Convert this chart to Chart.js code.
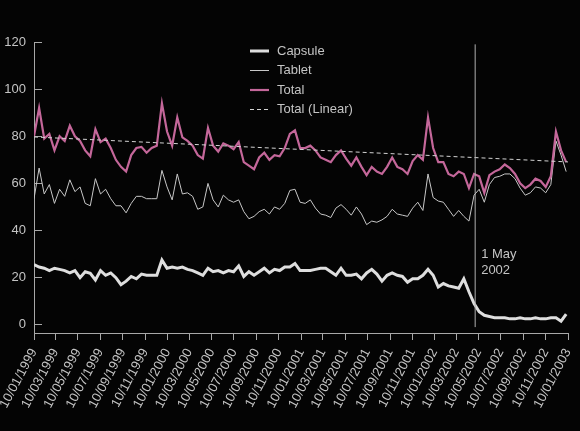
<!doctype html>
<html lang="en">
    <head>
        <meta charset="UTF-8" />
        <title>Capsule / Tablet / Total</title>
        <script src="https://cdn.jsdelivr.net/npm/chart.js"></script>
        <style>
            html, body { margin: 0; padding: 0; background: #040404; }
            #wrap { width: 580px; height: 431px; }
        </style>
    </head>
    <body>
        <div id="wrap"><canvas id="chart1" width="580" height="431"></canvas></div>
        <script>
            // tick labels on the date axis (dd/mm/yyyy)
            const tickLabels = [
                "10/01/1999", "10/03/1999", "10/05/1999", "10/07/1999", "10/09/1999", "10/11/1999",
                "10/01/2000", "10/03/2000", "10/05/2000", "10/07/2000", "10/09/2000", "10/11/2000",
                "10/01/2001", "10/03/2001", "10/05/2001", "10/07/2001", "10/09/2001", "10/11/2001",
                "10/01/2002", "10/03/2002", "10/05/2002", "10/07/2002", "10/09/2002", "10/11/2002",
                "10/01/2003",
            ];
            const yTicks = [0, 20, 40, 60, 80, 100, 120];
            const stepDays = 14; // one reading every two weeks

            const capsule = [
                25.5, 24.5, 24, 23, 24, 23.5, 23, 22, 23, 20,
                22.5, 21.8, 19, 23, 21, 22, 20, 17, 18.5, 20.5,
                19.5, 21.5, 21, 21, 21, 27.5, 24, 24.5, 24, 24.5,
                23.5, 23, 22, 21, 24, 22.5, 23, 22, 23, 22.5,
                25, 20.5, 22.5, 21, 22.5, 24, 22, 23.5, 23, 24.5,
                24.5, 26, 23, 23, 23, 23.5, 24, 24, 22.5, 21,
                24, 21, 21, 21.5, 19.5, 22, 23.5, 21.5, 18.5, 21,
                22, 21, 20.5, 18, 19.5, 19.5, 21, 23.5, 21, 16,
                17.5, 16.5, 16, 15.5, 19.5, 14, 9, 5.5, 4, 3.5,
                3, 3, 3, 2.5, 2.5, 3, 2.5, 2.5, 3, 2.5,
                2.5, 3, 3, 1.5, 4.5,
            ];
            const tablet = [
                53.5, 66.5, 55.5, 59.5, 51.5, 57.5, 54.5, 61.5, 56.5, 58.5,
                51.5, 50.5, 62, 55.5, 57.5, 53.5, 50.5, 50.5, 47.5, 51.5,
                54.5, 54.5, 53.5, 53.5, 53.5, 65.5, 58.5, 53, 64, 55.5,
                56, 54.5, 49, 50, 60, 53, 50, 55, 53, 52,
                53, 48, 45, 46, 48, 49, 47, 50, 49, 51.5,
                57, 57.5, 52, 51.5, 53, 49.5, 47, 46.5, 45.5, 49.5,
                51, 49, 46.5, 50, 47, 42.5, 44, 43.5, 44.5, 46,
                49, 47, 46.5, 46, 49.5, 52, 48.5, 64, 54, 52.5,
                52, 49, 46, 48.5, 46, 44, 55, 57.5, 52, 59.5,
                62.5, 63, 64, 64, 62, 58, 55, 56, 58.5, 58,
                56, 59.5, 78, 72, 65,
            ];
            const total = [
                80, 92, 79, 81, 74, 80, 78, 84.5, 80, 78,
                74, 71.5, 83, 77.5, 79, 75, 70, 67, 65, 72,
                75, 75.5, 73, 75, 76, 94, 82, 76, 88, 79.5,
                78, 76, 72, 70.5, 83.5, 76, 73.5, 77, 76, 74.5,
                77.5, 69, 67.5, 66, 71, 73, 70, 72, 71.5, 75,
                81, 82.5, 75, 75, 76, 74, 71, 70, 69, 72,
                74, 70.5, 67.5, 71, 67, 63.5, 67, 65, 64, 67,
                71, 67, 66, 64, 69.5, 72, 70, 88, 75, 69,
                69, 64, 63, 65, 64, 58, 64, 63, 56, 63.5,
                65, 66, 68, 66.5, 64, 60, 58, 59.5, 62, 61,
                58.5, 63, 82, 74, 69,
            ];
            // linear trend of Total, read at both ends of the axis
            const totalLinear = [79.7, 69.1];
            const markerDate = "01/05/2002";
            const markerText = ["1 May", "2002"];
            const markerSpan = [-1, 119];

            const FONT = '"Liberation Sans", Arial, sans-serif';
            const TXT = "#c4c4c4";
            const AXIS = "#a8a8a8";

            function dayOf(s) {
                const p = s.split("/");
                const t = Date.UTC(+p[2], +p[1] - 1, +p[0]);
                const p0 = tickLabels[0].split("/");
                return (t - Date.UTC(+p0[2], +p0[1] - 1, +p0[0])) / 86400000;
            }
            const tickDays = tickLabels.map(dayOf);
            const lastDay = tickDays[tickDays.length - 1];
            const markerDay = dayOf(markerDate);

            const series = (arr) => arr.map((v, i) => ({ x: i * stepDays, y: v }));

            // legend drawn inside the plot, lines stacked top centre
            const legendInside = {
                id: "legendInside",
                afterDraw(chart) {
                    const ctx = chart.ctx;
                    const a = chart.chartArea;
                    const x0 = a.left + 216;
                    let y = a.top + 9;
                    ctx.save();
                    ctx.font = "13px " + FONT;
                    ctx.textBaseline = "middle";
                    ctx.textAlign = "left";
                    chart.data.datasets.forEach((ds) => {
                        if (!ds.label) return;
                        ctx.strokeStyle = ds.borderColor;
                        ctx.lineWidth = ds.borderWidth;
                        ctx.setLineDash(ds.borderDash || []);
                        ctx.beginPath();
                        ctx.moveTo(x0, y);
                        ctx.lineTo(x0 + 19, y);
                        ctx.stroke();
                        ctx.setLineDash([]);
                        ctx.fillStyle = TXT;
                        ctx.fillText(ds.label, x0 + 27, y);
                        y += 19.5;
                    });
                    // note next to the 1 May 2002 line
                    const xs = chart.scales.x;
                    const ys = chart.scales.y;
                    const tx = xs.getPixelForValue(markerDay) + 6;
                    const ty = ys.getPixelForValue(30);
                    markerText.forEach((t, i) => ctx.fillText(t, tx, ty + i * 16));
                    ctx.restore();
                },
            };

            new Chart(document.getElementById("chart1").getContext("2d"), {
                type: "line",
                plugins: [legendInside],
                data: {
                    datasets: [
                        {
                            label: "Capsule",
                            data: series(capsule),
                            borderColor: "#dedede",
                            borderWidth: 3,
                            order: 4,
                        },
                        {
                            label: "Tablet",
                            data: series(tablet),
                            borderColor: "#c8c8c8",
                            borderWidth: 1,
                            order: 3,
                        },
                        {
                            label: "Total",
                            data: series(total),
                            borderColor: "#c4679a",
                            borderWidth: 2.2,
                            order: 2,
                        },
                        {
                            label: "Total (Linear)",
                            data: [
                                { x: 0, y: totalLinear[0] },
                                { x: lastDay, y: totalLinear[1] },
                            ],
                            borderColor: "#d4d4d4",
                            borderWidth: 1,
                            borderDash: [4, 3],
                            order: 1,
                        },
                        {
                            data: markerSpan.map((v) => ({ x: markerDay, y: v })),
                            borderColor: "#b0b0b0",
                            borderWidth: 1,
                            order: 0,
                        },
                    ],
                },
                options: {
                    responsive: false,
                    animation: false,
                    devicePixelRatio: 1,
                    elements: { point: { radius: 0 }, line: { tension: 0 } },
                    layout: { padding: { top: 42, right: 12, left: 0, bottom: 0 } },
                    plugins: { legend: { display: false }, tooltip: { enabled: false } },
                    scales: {
                        x: {
                            type: "linear",
                            min: 0,
                            max: lastDay,
                            afterBuildTicks: (s) => {
                                s.ticks = tickDays.map((v) => ({ value: v }));
                            },
                            afterFit: (s) => {
                                s.height = 98;
                                s.paddingLeft = 0;
                                s.paddingRight = 0;
                            },
                            grid: {
                                drawOnChartArea: false,
                                tickLength: 7,
                                tickColor: AXIS,
                            },
                            border: { color: AXIS, width: 1 },
                            ticks: {
                                autoSkip: false,
                                minRotation: 62,
                                maxRotation: 62,
                                padding: 6,
                                color: TXT,
                                font: { family: FONT, size: 13 },
                                callback: (v) => tickLabels[tickDays.indexOf(v)] || "",
                            },
                        },
                        y: {
                            min: -3.5,
                            max: 120,
                            afterBuildTicks: (s) => {
                                s.ticks = yTicks.map((v) => ({ value: v }));
                            },
                            afterFit: (s) => {
                                s.width = 34;
                                s.paddingTop = 0;
                                s.paddingBottom = 0;
                            },
                            grid: {
                                drawOnChartArea: false,
                                tickLength: -8,
                                tickColor: AXIS,
                            },
                            border: { color: AXIS, width: 1 },
                            ticks: {
                                padding: 16,
                                color: TXT,
                                font: { family: FONT, size: 13 },
                            },
                        },
                    },
                },
            });
        </script>
    </body>
</html>
